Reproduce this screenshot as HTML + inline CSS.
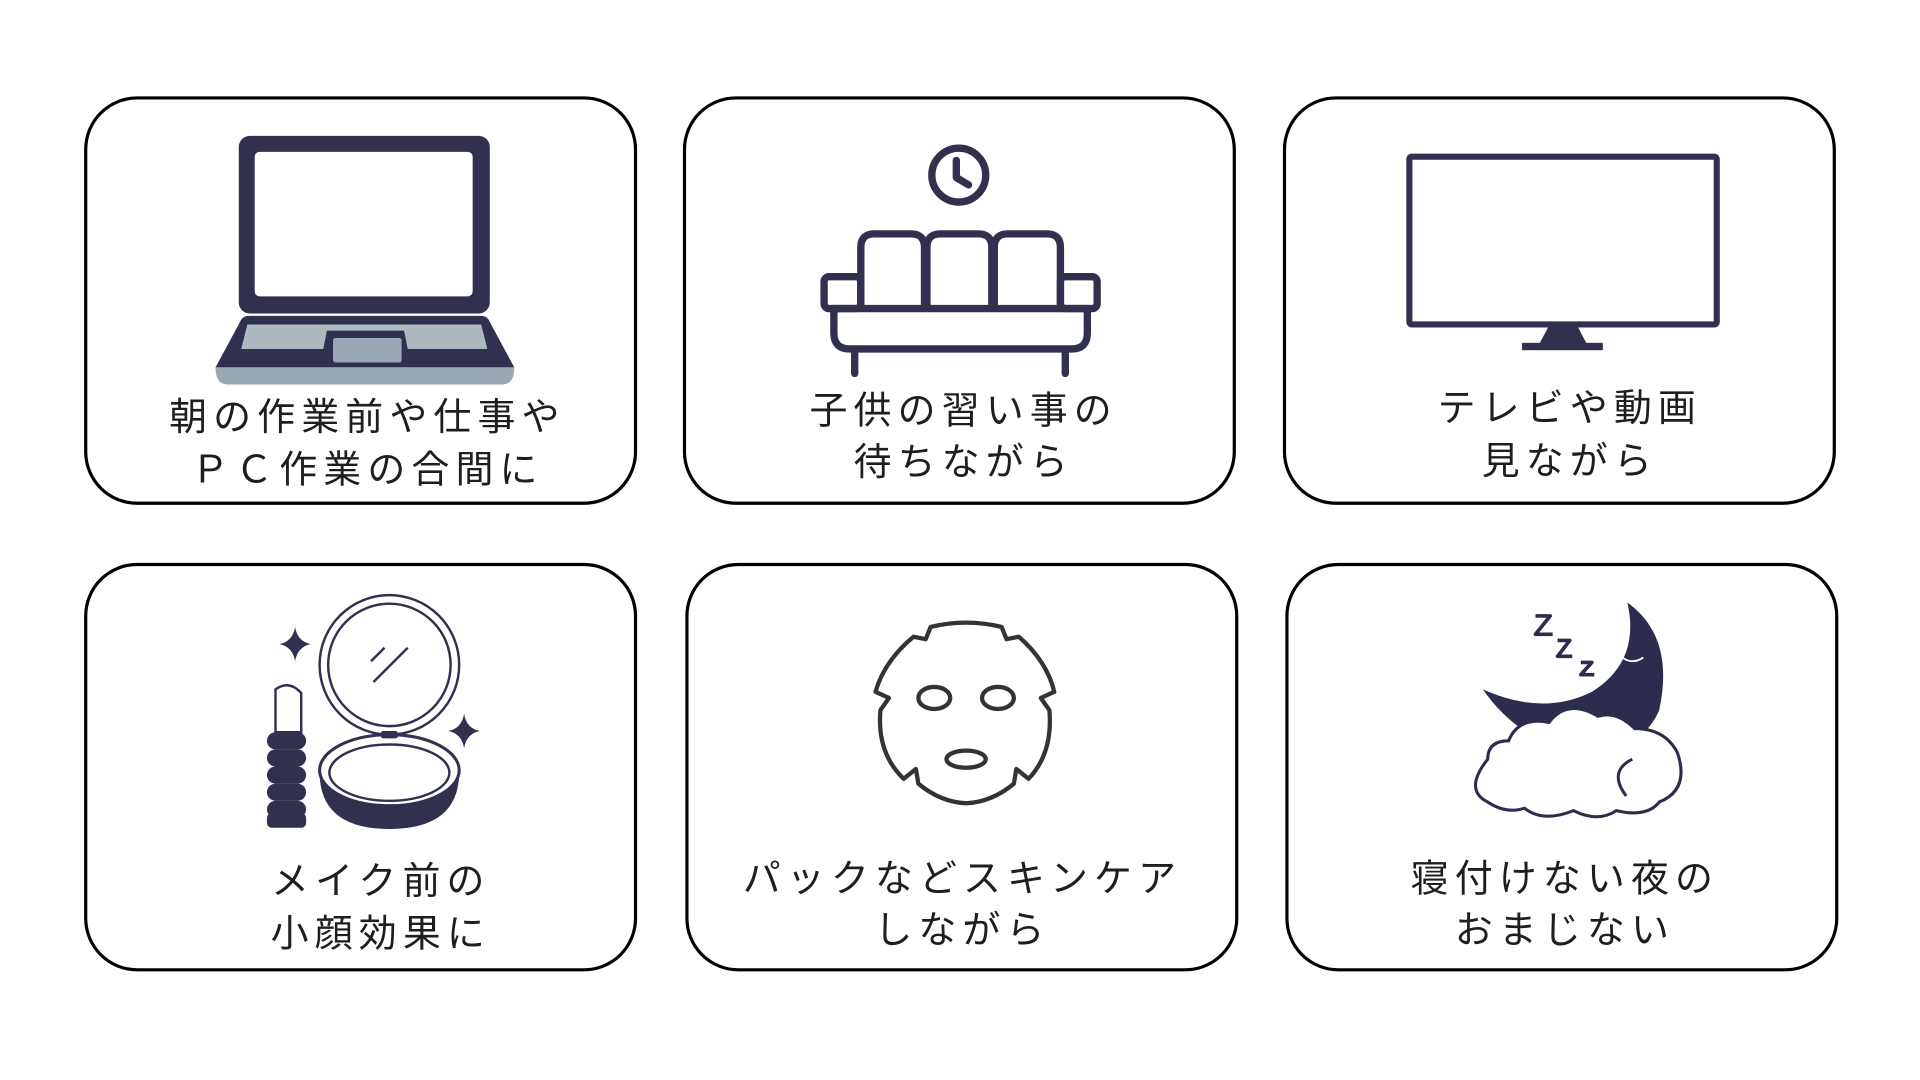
<!DOCTYPE html>
<html><head><meta charset="utf-8"><style>
html,body{margin:0;padding:0;background:#fff;width:1920px;height:1080px;overflow:hidden}
text{font-family:"Liberation Sans","Noto Sans CJK JP",sans-serif;font-size:31px;fill:#1e1e1e;letter-spacing:5px;text-anchor:middle;font-weight:400}
</style></head><body>
<svg width="1920" height="1080" viewBox="0 0 1568 882" xmlns="http://www.w3.org/2000/svg">
<g fill="none" stroke="#000" stroke-width="2.6">
<rect x="70" y="80" width="449" height="331" rx="42"/>
<rect x="559" y="80" width="449" height="331" rx="42"/>
<rect x="1049" y="80" width="449" height="331" rx="42"/>
<rect x="70" y="461" width="449" height="331" rx="42"/>
<rect x="561" y="461" width="449" height="331" rx="42"/>
<rect x="1051" y="461" width="449" height="331" rx="42"/>
</g>
<!-- laptop -->
<rect x="195" y="111" width="205" height="145" rx="9" fill="#31314f"/>
<rect x="208" y="124" width="178" height="118" rx="4" fill="#fff"/>
<path d="M203 258 H393 Q398 258 400 263 L420 300 H176 L196 263 Q198 258 203 258Z" fill="#31314f"/>
<path d="M176 300 H420 Q420 314 410 314 H186 Q176 314 176 300Z" fill="#9aa8b3"/>
<path d="M202 265 H393 L398 285 H333 L330 270 H267 L264 285 H197Z" fill="#aeb8bf"/>
<rect x="272" y="276" width="56" height="20" rx="2" fill="#9aa8b3"/>
<!-- sofa -->
<g fill="none" stroke="#31314f" stroke-width="6" stroke-linecap="round" stroke-linejoin="round">
<circle cx="783" cy="143" r="22"/>
<path d="M781 131 V145 L791 151"/>
<path d="M703 250 V202 Q703 191 714 191 H744 Q755 191 755 202 V250"/>
<path d="M757 250 V202 Q757 191 768 191 H799 Q810 191 810 202 V250"/>
<path d="M812 250 V202 Q812 191 823 191 H855 Q866 191 866 202 V250"/>
<rect x="673" y="226" width="30" height="26" rx="4"/>
<rect x="866" y="226" width="30" height="26" rx="4"/>
<path d="M681 252 V272 Q681 285 694 285 H875 Q888 285 888 272 V252"/>
<path d="M681 252 H888"/>
<path d="M698 287 V305 M870 287 V305"/>
</g>
<!-- tv -->
<rect x="1151" y="128" width="251" height="137" fill="none" stroke="#31314f" stroke-width="5" rx="2"/>
<path d="M1265 266 H1288 L1296 281 H1257Z" fill="#31314f"/>
<rect x="1243" y="280" width="66" height="6" fill="#31314f"/>
<!-- compact -->
<g fill="none" stroke="#31314f" stroke-width="2">
<circle cx="318" cy="543" r="57"/>
<circle cx="318" cy="543" r="50"/>
<path d="M305 557 L333 529 M303 540 L314 529"/>
</g>
<path d="M261 632 Q262 677 318 677 Q374 677 375 632 Q360 650 318 650 Q276 650 261 632Z" fill="#31314f"/>
<ellipse cx="318" cy="629" rx="57" ry="29" fill="#fff" stroke="#31314f" stroke-width="2.5"/>
<ellipse cx="318" cy="631" rx="49" ry="23" fill="none" stroke="#31314f" stroke-width="2"/>
<rect x="311" y="597" width="14" height="6" rx="2" fill="#31314f"/>
<path d="M225 563 Q236 555 246 566 V598 H225Z" fill="#fff" stroke="#31314f" stroke-width="2"/>
<g fill="#31314f">
<rect x="218" y="598" width="32" height="14" rx="7"/>
<rect x="218" y="612" width="32" height="14" rx="7"/>
<rect x="218" y="626" width="32" height="14" rx="7"/>
<rect x="218" y="640" width="32" height="14" rx="7"/>
<rect x="218" y="654" width="32" height="14" rx="7"/>
<rect x="218" y="664" width="32" height="12" rx="4"/>
<path d="M241 512 Q243 524 254 526 Q243 528 241 540 Q239 528 228 526 Q239 524 241 512Z"/>
<path d="M379 583 Q381 595 392 597 Q381 599 379 611 Q377 599 366 597 Q377 595 379 583Z"/>
</g>
<!-- mask -->
<g fill="none" stroke="#333" stroke-width="3.5" stroke-linejoin="round">
<path d="M760 512 Q789 505 818 512 L822 522 L832 520 Q855 540 861 565 L850 570 L857 580 Q860 615 840 636 L830 628 L828 640 Q810 655 789 656 Q768 655 750 640 L748 628 L738 636 Q716 615 719 580 L726 570 L715 565 Q722 540 746 520 L756 522Z"/>
<ellipse cx="763" cy="570" rx="13" ry="9"/>
<ellipse cx="815" cy="570" rx="13" ry="9"/>
<ellipse cx="789" cy="620" rx="16" ry="7"/>
</g>
<!-- moon -->
<path d="M1329 492 Q1368 520 1355 580 Q1340 615 1290 615 Q1240 605 1211 563 Q1260 585 1300 565 Q1340 540 1329 492Z" fill="#2c2c4f"/>
<path d="M1215 620 Q1215 605 1232 605 Q1240 585 1265 590 Q1280 570 1305 585 Q1320 580 1335 595 Q1360 595 1370 615 Q1380 645 1355 655 Q1345 668 1320 662 Q1305 672 1285 662 Q1260 672 1245 660 Q1230 665 1215 655 Q1195 645 1215 620Z" fill="#fff" stroke="#2c2c4f" stroke-width="2.5"/>
<path d="M1328 650 Q1313 630 1333 620" fill="none" stroke="#2c2c4f" stroke-width="2.5"/>
<path d="M1325 537 Q1333 543 1342 537" fill="none" stroke="#fff" stroke-width="1.5"/>
<g fill="none" stroke="#2c2c4f" stroke-width="3" stroke-linejoin="round">
<path d="M1254 503 H1266 L1254 518 H1268"/>
<path d="M1272 523 H1282 L1272 536 H1284"/>
<path d="M1291 541 H1300 L1291 551 H1302"/>
</g>
<!-- text -->
<text x="300" y="351">朝の作業前や仕事や</text>
<text x="300" y="394">ＰＣ作業の合間に</text>
<text x="787" y="346">子供の習い事の</text>
<text x="787" y="388">待ちながら</text>
<text x="1282" y="344">テレビや動画</text>
<text x="1282" y="387">見ながら</text>
<text x="311" y="730">メイク前の</text>
<text x="311" y="773">小顔効果に</text>
<text x="786" y="728">パックなどスキンケア</text>
<text x="786" y="770">しながら</text>
<text x="1278" y="728">寝付けない夜の</text>
<text x="1278" y="770">おまじない</text>
</svg>
</body></html>
